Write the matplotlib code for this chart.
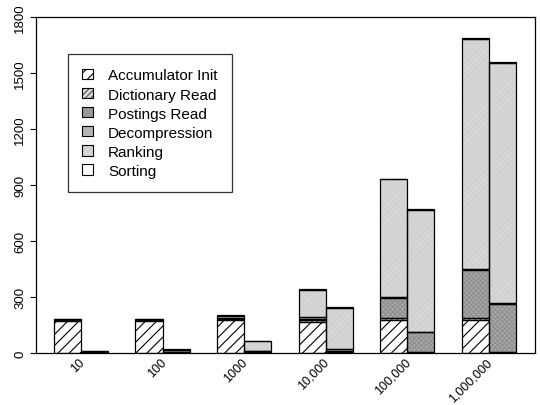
import matplotlib
matplotlib.use("Agg")
import matplotlib.pyplot as plt
from matplotlib.patches import Patch, Rectangle
from matplotlib.legend_handler import HandlerBase
from matplotlib.transforms import ScaledTranslation
import numpy as np

plt.rcParams['font.family'] = ['Liberation Sans', 'DejaVu Sans']
plt.rcParams['hatch.linewidth'] = 0.8

groups = ["10", "100", "1000", "10,000", "100,000", "1,000,000"]
components = ["Accumulator Init", "Dictionary Read", "Postings Read",
              "Decompression", "Ranking", "Sorting"]

# time per component for the accumulator-based method (first bar of each group)
accum = {
    "Accumulator Init": [172, 172, 178, 168, 178, 178],
    "Dictionary Read":  [4, 4, 4, 8, 8, 8],
    "Postings Read":    [2, 2, 2, 6, 108, 258],
    "Decompression":    [1, 1, 1, 9, 4, 4],
    "Ranking":          [1, 2, 15, 148, 632, 1234],
    "Sorting":          [2, 2, 3, 4, 4, 4],
}
# time per component for the second method (no accumulator initialisation)
other = {
    "Accumulator Init": [0, 0, 0, 0, 0, 0],
    "Dictionary Read":  [4, 4, 5, 6, 7, 8],
    "Postings Read":    [3, 3, 5, 6, 103, 254],
    "Decompression":    [1, 1, 2, 10, 4, 4],
    "Ranking":          [1, 10, 50, 218, 653, 1287],
    "Sorting":          [1, 3, 4, 4, 4, 4],
}

yticks = [0, 300, 600, 900, 1200, 1500, 1800]

styles = {
    "Accumulator Init": dict(face="white",   hatch="///",     hcol="black"),
    "Dictionary Read":  dict(face="#d8d8d8", hatch="//////",  hcol="#555555"),
    "Postings Read":    dict(face="#ababab", hatch="xxxxxxx", hcol="#8e8e8e"),
    "Decompression":    dict(face="#b6b6b6", hatch="",        hcol="#b6b6b6"),
    "Ranking":          dict(face="#d6d6d6", hatch="//////",  hcol="#cecece"),
    "Sorting":          dict(face="white",   hatch="",        hcol="white"),
}


class HandlerOverlay(HandlerBase):
    """Draws a tuple of patches stacked on the same legend swatch."""

    def create_artists(self, legend, orig_handle, xdescent, ydescent,
                       width, height, fontsize, trans):
        arts = []
        for p in orig_handle:
            r = Rectangle((-xdescent, -ydescent), width, height,
                          facecolor=p.get_facecolor(), edgecolor=p.get_edgecolor(),
                          hatch=p.get_hatch(), linewidth=p.get_linewidth(),
                          fill=p.get_fill(), transform=trans)
            arts.append(r)
        return arts


fig = plt.figure(figsize=(5.4, 4.06), dpi=100)
ax = fig.add_axes([36 / 540, 1 - 354 / 406, 499 / 540, 336 / 406])

n = len(groups)
centers = np.arange(n) * 3 + 1.0
x1 = centers - 0.5
x2 = centers + 0.5


def draw_stack(xpos, data):
    bottom = np.zeros(n)
    for comp in components:
        vals = np.array(data[comp], dtype=float)
        st = styles[comp]
        ax.bar(xpos, vals, width=1.0, bottom=bottom, color=st["face"],
               hatch=st["hatch"], edgecolor=st["hcol"], linewidth=0, zorder=2)
        ax.bar(xpos, vals, width=1.0, bottom=bottom, fill=False,
               edgecolor="black", linewidth=0.9, zorder=3)
        bottom += vals


draw_stack(x1, accum)
draw_stack(x2, other)

ax.set_xlim(-0.66, 17.7)
ax.set_ylim(0, 1800)
ax.set_yticks(yticks)
ax.set_yticklabels([str(v) for v in yticks], rotation=90, va="center", fontsize=9.5)
ax.tick_params(axis="y", length=4, width=0.8, pad=3)
ax.set_xticks(centers)
ax.set_xticklabels(groups, rotation=45, ha="right", fontsize=9)
ax.tick_params(axis="x", length=0, pad=2)
shift = ScaledTranslation(0.06, 0, fig.dpi_scale_trans)
for lab in ax.get_xticklabels():
    lab.set_transform(lab.get_transform() + shift)
for sp in ax.spines.values():
    sp.set_linewidth(0.9)

handles = []
for comp in components:
    st = styles[comp]
    h_fill = Patch(facecolor=st["face"], hatch=st["hatch"], edgecolor=st["hcol"], linewidth=0)
    h_edge = Patch(fill=False, edgecolor="black", linewidth=0.8)
    handles.append((h_fill, h_edge))

leg = ax.legend(handles, components, handler_map={tuple: HandlerOverlay()},
                loc="upper left", bbox_to_anchor=(0.064, 0.89), borderaxespad=0,
                fontsize=11, frameon=True, fancybox=False, edgecolor="black",
                handlelength=0.68, handleheight=0.68, handletextpad=1.0,
                labelspacing=0.33, borderpad=0.95)
leg.get_frame().set_linewidth(0.9)

fig.savefig("out.png", dpi=100)
